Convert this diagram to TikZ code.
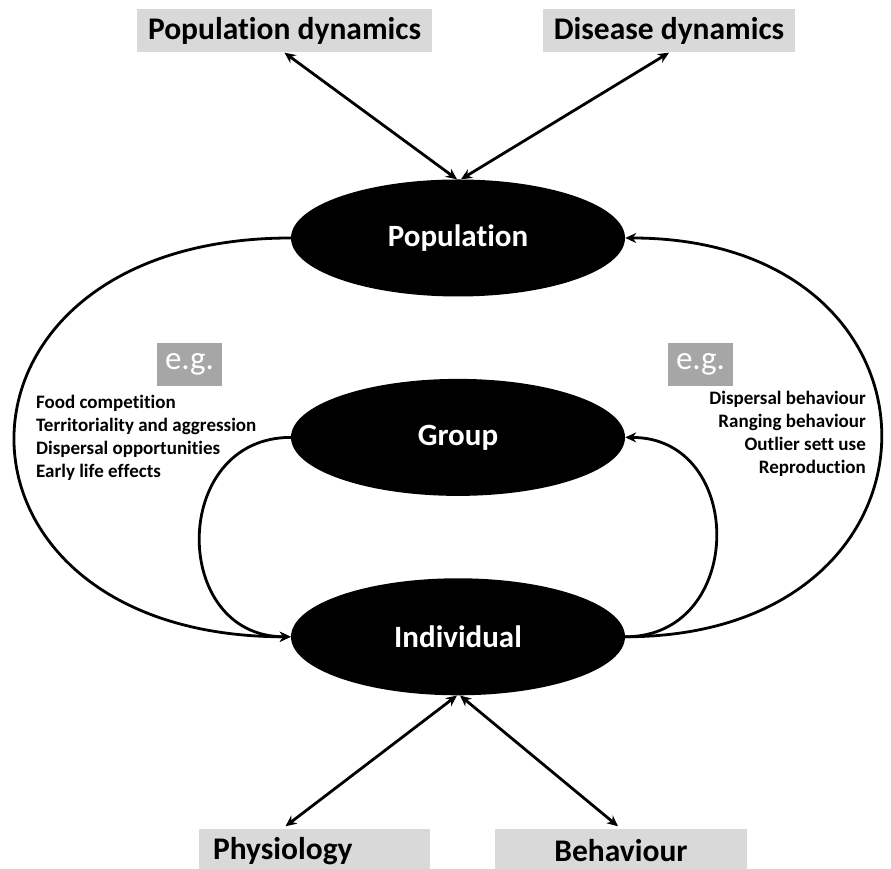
\documentclass[tikz,border=0pt]{standalone}
\usepackage{fontspec}
\setmainfont{Carlito}[Ligatures=NoCommon]
\usetikzlibrary{shapes.geometric, arrows.meta, positioning, calc}
\definecolor{boxgray}{RGB}{217,217,217}
\definecolor{eggray}{RGB}{166,166,166}

\begin{document}
\begin{tikzpicture}[
        x=1pt, y=1pt,
        node distance=82pt,
        level/.style={ellipse, fill=black, text=white, minimum width=334pt, minimum height=117pt, font=\fontsize{31}{37}\selectfont\bfseries},
        outcome/.style={fill=boxgray, minimum height=43pt, inner sep=0pt, font=\fontsize{31.5}{37}\selectfont\bfseries},
        egbox/.style={fill=eggray, text=white, minimum width=65pt, minimum height=43pt, inner sep=0pt, font=\fontsize{33}{36}\selectfont},
        examples/.style={inner sep=0pt, font=\fontsize{19}{23}\selectfont\bfseries},
        link/.style={line width=2.8pt, -{Stealth[length=11pt,width=10pt]}},
        twoway/.style={line width=2.8pt, {Stealth[length=11pt,width=10pt]}-{Stealth[length=11pt,width=10pt]}}
    ]
        \useasboundingbox (0,0) rectangle (891,869);

        % levels
        \node[level] (pop) at (458,631) {Population};
        \node[level, below=of pop] (grp) {Group};
        \node[level, below=of grp] (ind) {Individual};

        % outcomes and drivers
        \node[outcome, minimum width=295pt] (popdyn) at (284.5,838) {Population dynamics};
        \node[outcome, minimum width=252pt] (disdyn) at (669,838) {Disease dynamics};
        \node[outcome, text width=217pt, inner xsep=7pt, align=left] (phys) at (314.5,18) {\hspace*{7pt}Physiology};
        \node[outcome, minimum width=252pt] (behav) at (621,18) {Behaviour};

        \draw[twoway] (popdyn.south) -- ([xshift=-1pt]pop.north);
        \draw[twoway] (disdyn.south) -- ([xshift=3pt]pop.north);
        \draw[twoway] ([xshift=-29pt, yshift=3pt]phys.north) -- ([xshift=-1pt]ind.south);
        \draw[twoway] ([xshift=-3pt, yshift=3pt]behav.north) -- ([xshift=2pt]ind.south);

        % feedback loops
        \draw[link] (pop.west) .. controls +(-368,0) and +(-368,0) .. (ind.west);
        \draw[link] (grp.west) .. controls +(-121,0) and +(-121,0) .. (ind.west);
        \draw[link] (ind.east) .. controls +(341,0) and +(341,0) .. (pop.east);
        \draw[link] (ind.east) .. controls +(121,0) and +(121,0) .. (grp.east);

        % examples
        \node[egbox] (egl) at (189.5,504.5) {e.g.};
        \node[egbox] (egr) at (700.5,504.5) {e.g.};
        \node[examples, align=left, anchor=north west] (listl) at (36,474) {Food competition\\Territoriality and aggression\\Dispersal opportunities\\Early life effects};
        \node[examples, align=right, anchor=north east] (listr) at (866,478) {Dispersal behaviour\\Ranging behaviour\\Outlier sett use\\Reproduction};
    \end{tikzpicture}
\end{document}
